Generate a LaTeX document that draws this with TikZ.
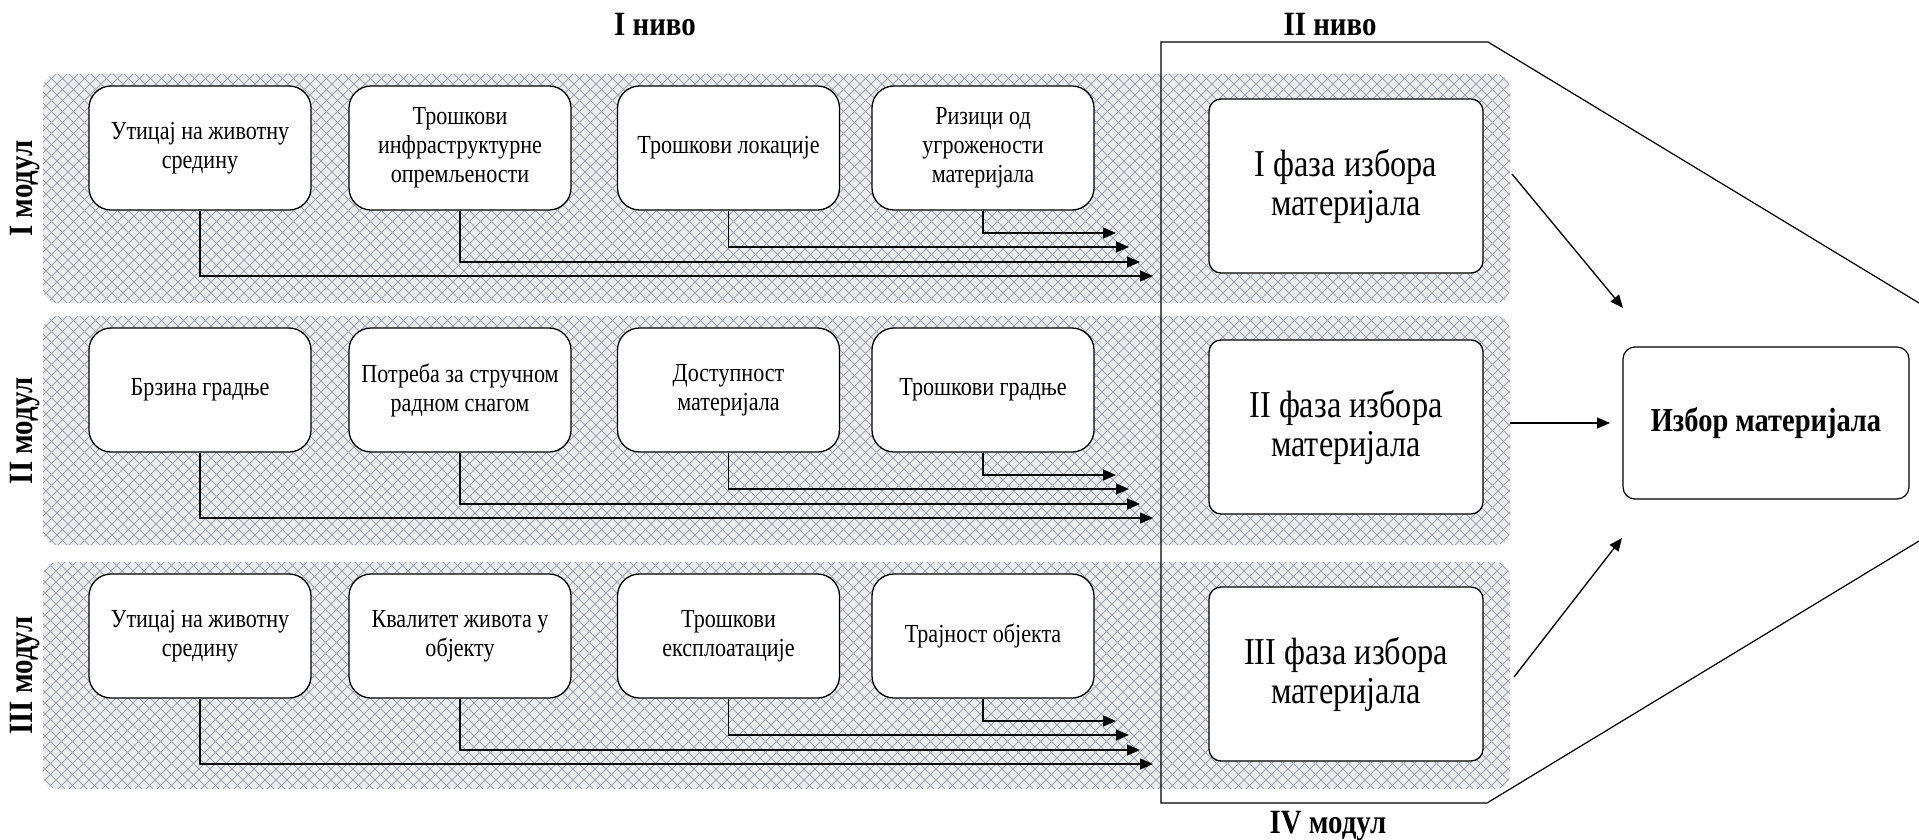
\documentclass[tikz,border=0pt]{standalone}
\usepackage{fontspec}
\setmainfont{Liberation Serif}[FakeStretch=0.85]
\usetikzlibrary{arrows.meta}
\definecolor{bandgrey}{HTML}{EDEDED}
\definecolor{hatch}{HTML}{9CA4B4}
\tikzset{
 hatchline/.style={draw=hatch, line width=1pt},
 crit/.style={draw, line width=1.3pt, fill=white, rounded corners=22pt, minimum width=222pt,
   minimum height=124pt, align=center, font=\fontsize{26}{29}\selectfont, inner sep=0pt},
 phase/.style={draw, line width=1.3pt, fill=white, rounded corners=12pt, minimum width=274pt,
   minimum height=174pt, align=center, font=\fontsize{38}{39}\selectfont, inner sep=0pt},
 final/.style={draw, line width=1.2pt, fill=white, rounded corners=12pt, minimum width=286pt,
   minimum height=152pt, font=\bfseries\fontsize{33.5}{36}\selectfont, inner sep=0pt},
 conn/.style={line width=1.3pt, -{Triangle[length=13pt,width=11pt]}},
 title/.style={font=\bfseries\fontsize{34}{38}\selectfont, anchor=base, inner sep=0pt},
 modlabel/.style={font=\bfseries\fontsize{34}{38}\selectfont, rotate=90, inner sep=0pt},
 frameline/.style={line width=1.2pt},
}
\begin{document}
\begin{tikzpicture}[x=1pt,y=-1pt]
\useasboundingbox (0,0) rectangle (1919,840);
% hatched bands
\foreach \ya/\yb in {74/303,316/545,562/789}{
  \begin{scope}
    \clip[rounded corners=15pt] (43,\ya) rectangle (1510,\yb);
    \fill[bandgrey] (43,\ya) rectangle (1510,\yb);
    \foreach \i in {0,...,156}{
      \pgfmathsetmacro{\xa}{-200+11*\i}
      \draw[hatchline] (\xa,\yb+5) -- ++(240,-240);
      \draw[hatchline] (\xa,\ya-5) -- ++(240,240);
    }
  \end{scope}
}
% titles
\node[title] (niv1) at (655,36) {I ниво};
\node[title] (niv2) at (1330,36) {II ниво};
\node[title] (mod4) at (1328,833) {IV модул};
\node[modlabel] (mod1) at (25,188.5) {I модул};
\node[modlabel] (mod2) at (25,430.5) {II модул};
\node[modlabel] (mod3) at (25,675.5) {III модул};
% criteria boxes
\node[crit] (c11) at (200,148) {Утицај на животну\\средину};
\node[crit] (c12) at (460,148) {Трошкови\\инфраструктурне\\опремљености};
\node[crit] (c13) at (728.5,148) {Трошкови локације};
\node[crit] (c14) at (983,148) {Ризици од\\угрожености\\материјала};
\node[crit] (c21) at (200,390) {Брзина градње};
\node[crit] (c22) at (460,390) {Потреба за стручном\\радном снагом};
\node[crit] (c23) at (728.5,390) {Доступност\\материјала};
\node[crit] (c24) at (983,390) {Трошкови градње};
\node[crit] (c31) at (200,636) {Утицај на животну\\средину};
\node[crit] (c32) at (460,636) {Квалитет живота у\\објекту};
\node[crit] (c33) at (728.5,636) {Трошкови\\експлоатације};
\node[crit] (c34) at (983,636) {Трајност објекта};
% arrow tips
\foreach \r/\dy in {1/0,2/242,3/488}{
  \coordinate (t\r4) at (1116,233+\dy);
  \coordinate (t\r3) at (1129,247+\dy);
  \coordinate (t\r2) at (1140,262+\dy);
  \coordinate (t\r1) at (1153,276+\dy);
}
\foreach \r in {1,2,3}{
  \foreach \c in {1,2,3,4}{
    \draw[conn] (c\r\c.south) |- (t\r\c);
  }
}
% frame of IV module
\draw[frameline] (1919,303) -- (1488,42) -- (1161,42) -- (1161,803) -- (1487,803) -- (1919,541);
% phase boxes
\node[phase] (p1) at (1346,186) {I фаза избора\\материјала};
\node[phase] (p2) at (1346,427) {II фаза избора\\материјала};
\node[phase] (p3) at (1346,674) {III фаза избора\\материјала};
% final
\node[final] (fin) at (1766,423) {Избор материјала};
\coordinate (s1) at (1512,174);
\coordinate (e1) at (1623,308);
\coordinate (s2) at (1510,423);
\coordinate (e2) at (1610,423);
\coordinate (s3) at (1514,677);
\coordinate (e3) at (1622,538);
\draw[conn] (s1) -- (e1);
\draw[conn] (s2) -- (e2);
\draw[conn] (s3) -- (e3);
\end{tikzpicture}
\end{document}
